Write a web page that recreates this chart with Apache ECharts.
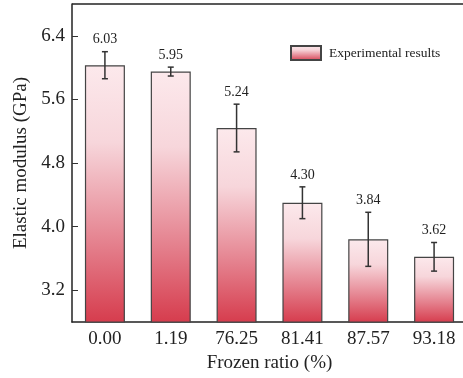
<!DOCTYPE html>
<html><head><meta charset="utf-8">
<script src="https://cdn.jsdelivr.net/npm/echarts@6/dist/echarts.min.js"></script>
<style>html,body{margin:0;padding:0;background:#fff;overflow:hidden}#c{width:463px;height:378px}</style>
</head><body><div id="c"></div>
<script>
const categories = ['0.00', '1.19', '76.25', '81.41', '87.57', '93.18'];
const modulus = [6.03, 5.95, 5.24, 4.30, 3.84, 3.62];
const errors = [0.17, 0.056, 0.30, 0.20, 0.34, 0.18];
const yTicks = [3.2, 4.0, 4.8, 5.6, 6.4];
const seriesName = 'Experimental results';

const FONT = '"Liberation Serif", "Times New Roman", serif';
const grad = new echarts.graphic.LinearGradient(0, 0, 0, 1, [
  {offset: 0, color: '#fce9ec'},
  {offset: 0.3, color: '#f7d6db'},
  {offset: 0.7, color: '#e47f8c'},
  {offset: 1, color: '#d63c4d'}
]);

const chart = echarts.init(document.getElementById('c'), null, {renderer: 'canvas'});
chart.setOption({
  animation: false,
  grid: {left: 72, top: 4, width: 395, height: 318, outerBoundsMode: 'none', containLabel: false},
  legend: {
    data: [{name: seriesName, icon: 'rect'}], left: 290, top: 45, padding: 0,
    itemWidth: 30, itemHeight: 14,
    textStyle: {fontFamily: FONT, fontSize: 13.5, color: '#222', padding: [0, 0, 0, 3]}
  },
  graphic: [{
    type: 'line', shape: {x1: 72, y1: 4, x2: 463, y2: 4},
    style: {stroke: '#222', lineWidth: 1.5}, silent: true
  }],
  xAxis: {
    type: 'category', data: categories, position: 'bottom',
    axisLine: {lineStyle: {color: '#222', width: 1.5}},
    axisTick: {inside: true, alignWithLabel: true, length: 5, lineStyle: {color: '#333'}},
    axisLabel: {fontFamily: FONT, fontSize: 19, color: '#222', margin: 8},
    name: 'Frozen ratio (%)', nameLocation: 'middle', nameGap: 30,
    nameTextStyle: {fontFamily: FONT, fontSize: 19, color: '#222'}
  },
  yAxis: {
    type: 'value', min: 2.8, max: 6.8,
    splitLine: {show: false},
    axisLine: {show: true, onZero: false, lineStyle: {color: '#222', width: 1.5}},
    axisTick: {show: true, inside: true, length: 6, customValues: yTicks, lineStyle: {color: '#333'}},
    axisLabel: {customValues: yTicks, fontFamily: FONT, fontSize: 19, color: '#222', margin: 7,
      formatter: v => v.toFixed(1)},
    name: 'Elastic modulus (GPa)', nameLocation: 'middle', nameGap: 40,
    nameTextStyle: {fontFamily: FONT, fontSize: 19, color: '#222'}
  },
  series: [{
    name: seriesName, type: 'bar', data: modulus, barWidth: 40,
    itemStyle: {color: grad, borderColor: '#444', borderWidth: 1.2}
  }, {
    type: 'custom', silent: true, z: 5,
    data: modulus.map((v, i) => [i, v, errors[i]]),
    renderItem: function (params, api) {
      const i = api.value(0), v = api.value(1), e = api.value(2);
      const top = api.coord([i, v + e]);
      const bot = api.coord([i, v - e]);
      const x = top[0], cw = 3;
      const ls = {stroke: '#333', lineWidth: 1.5};
      return {type: 'group', children: [
        {type: 'line', shape: {x1: x, y1: top[1], x2: x, y2: bot[1]}, style: ls},
        {type: 'line', shape: {x1: x - cw, y1: top[1], x2: x + cw, y2: top[1]}, style: ls},
        {type: 'line', shape: {x1: x - cw, y1: bot[1], x2: x + cw, y2: bot[1]}, style: ls},
        {type: 'text', style: {x: x, y: top[1] - 12, text: v.toFixed(2), fill: '#222',
          font: '14px ' + FONT, textAlign: 'center', textVerticalAlign: 'middle'}}
      ]};
    }
  }]
});
</script></body></html>
